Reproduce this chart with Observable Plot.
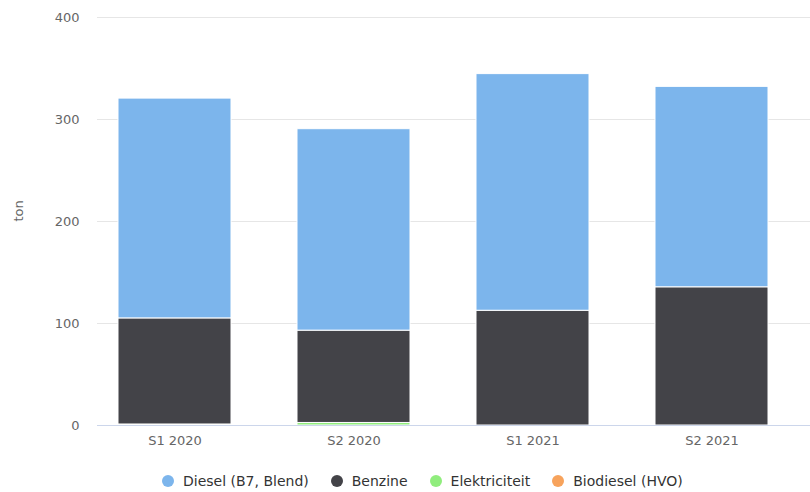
<!DOCTYPE html>
<html>
<head>
<meta charset="utf-8">
<script src="https://cdn.jsdelivr.net/npm/d3@7"></script>
<script src="https://cdn.jsdelivr.net/npm/@observablehq/plot@0.6"></script>
<style>
  html, body { margin: 0; padding: 0; background: #fff; }
  body { width: 810px; height: 492px; position: relative; font-family: "DejaVu Sans", sans-serif; overflow: hidden; }
  #chart { position: absolute; left: 0; top: 0; }
  #legend { position: absolute; left: 162px; top: 473px; display: flex; font-size: 14px; color: #333; white-space: nowrap; }
  .item { display: flex; align-items: center; margin-right: 22px; }
  .dot { width: 12px; height: 12px; border-radius: 50%; margin-right: 9px; }
</style>
</head>
<body>
<div id="chart"></div>
<div id="legend"></div>
<script>
const periods = ["S1 2020", "S2 2020", "S1 2021", "S2 2021"];
const fuels = ["Diesel (B7, Blend)", "Benzine", "Elektriciteit", "Biodiesel (HVO)"];
const colors = ["#7cb5ec", "#434348", "#90ed7d", "#f7a35c"];
const diesel = [215.5, 197.5, 232, 196.5];
const benzine = [104, 90.5, 112.5, 135.5];
const elektriciteit = [1, 2.5, 0, 0];
const biodiesel = [0, 0, 0, 0];
const yTicks = [0, 100, 200, 300, 400];

const seriesValues = [diesel, benzine, elektriciteit, biodiesel];
const stackOrder = [...fuels].reverse(); // bottom first
const data = [];
for (const f of stackOrder) {
  const vals = seriesValues[fuels.indexOf(f)];
  periods.forEach((p, i) => data.push({period: p, fuel: f, value: vals[i]}));
}

const chart = Plot.plot({
  width: 810,
  height: 462,
  marginLeft: 97,
  marginRight: 0,
  marginTop: 17,
  marginBottom: 37,
  style: {fontFamily: "DejaVu Sans, sans-serif", fontSize: "13px", color: "#666", background: "#fff"},
  x: {domain: periods, range: [97, 789], paddingInner: 0.367, paddingOuter: 0.106, label: null},
  y: {domain: [0, 400], ticks: yTicks, label: null},
  color: {domain: fuels, range: colors},
  marks: [
    Plot.ruleY(yTicks.filter(d => d > 0), {stroke: "#e6e6e6", strokeWidth: 1}),
    Plot.barY(data, Plot.stackY({
      x: "period", y: "value", fill: "fuel",
      order: stackOrder,
      stroke: "#fff", strokeWidth: 1
    })),
    Plot.ruleY([0], {stroke: "#ccd6eb", strokeWidth: 1}),
    Plot.axisX({tickSize: 0, tickPadding: 10, fill: "#666", fontSize: 13}),
    Plot.axisY({ticks: yTicks, tickSize: 0, tickPadding: 18, fill: "#666", fontSize: 13}),
    Plot.text(["ton"], {frameAnchor: "left", dx: -79, rotate: -90, fill: "#666", fontSize: 13})
  ]
});
document.getElementById("chart").appendChild(chart);

const legend = document.getElementById("legend");
fuels.forEach((f, i) => {
  const it = document.createElement("div");
  it.className = "item";
  const dot = document.createElement("span");
  dot.className = "dot";
  dot.style.background = colors[i];
  const t = document.createElement("span");
  t.textContent = f;
  it.appendChild(dot); it.appendChild(t);
  legend.appendChild(it);
});
</script>
</body>
</html>
